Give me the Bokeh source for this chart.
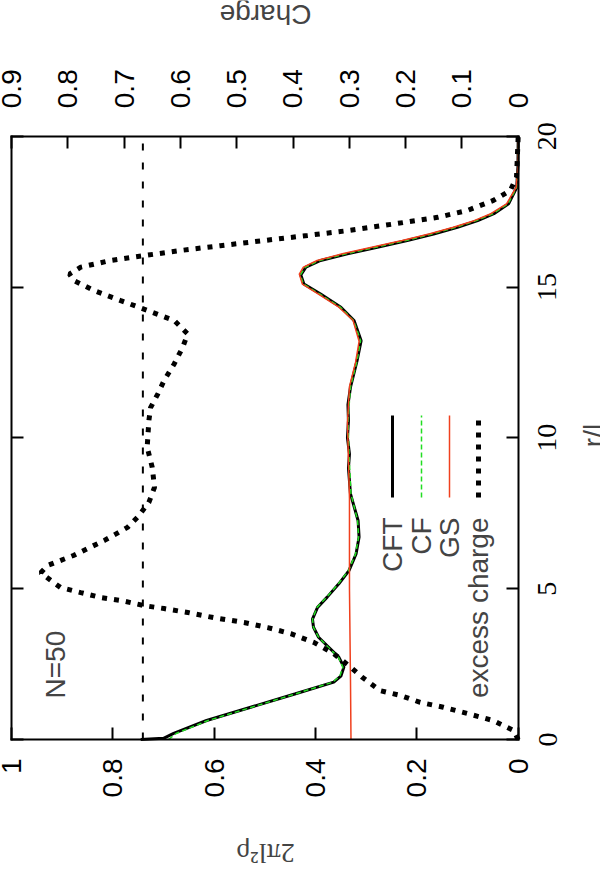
import math
from bokeh.plotting import figure
from bokeh.models import Range1d, LinearAxis, FixedTicker, Label, LabelSet, ColumnDataSource
from bokeh.embed import file_html
from bokeh.resources import INLINE

# ---------------- data ----------------
# CFT density (2*pi*l^2*rho) versus r/l
r_cft = [0.0, 0.04, 0.2, 0.63, 1.07, 1.51, 1.9, 2.1, 2.4, 2.73, 3.06, 3.39, 3.72, 3.99,
         4.38, 4.72, 5.16, 5.6, 6.15, 6.71, 7.26, 8.14, 9.0, 9.47, 10.0, 10.57, 11.1, 11.68,
         12.56, 13.22, 13.89, 14.33, 14.77, 15.1, 15.4, 15.66, 15.88, 16.1, 16.32, 16.54,
         16.76, 16.98, 17.2, 17.43, 17.76, 18.3, 19.0, 20.0]
rho_cft = [0.745, 0.70, 0.68, 0.615, 0.528, 0.441, 0.364, 0.35, 0.344, 0.354, 0.374, 0.394,
           0.404, 0.406, 0.396, 0.377, 0.354, 0.334, 0.32, 0.314, 0.316, 0.331, 0.335, 0.333,
           0.337, 0.335, 0.336, 0.331, 0.318, 0.31, 0.324, 0.35, 0.39, 0.423, 0.429, 0.419,
           0.39, 0.337, 0.278, 0.219, 0.167, 0.12, 0.08, 0.048, 0.019, 0.003, 0.0005, 0.0]

# CF density
r_cf = [0.0, 0.2, 0.63, 1.07, 1.51, 1.9, 2.1, 2.4, 2.73, 3.06, 3.39, 3.72, 3.99,
        4.38, 4.72, 5.16, 5.6, 6.15, 6.71, 7.26, 8.14, 9.47, 10.57, 11.68,
        12.56, 13.22, 13.89, 14.33, 14.77, 15.1, 15.4, 15.66, 15.88, 16.1, 16.32, 16.54,
        16.76, 16.98, 17.2, 17.43, 17.76, 18.3, 19.0, 20.0]
rho_cf = [0.69, 0.675, 0.612, 0.526, 0.44, 0.366, 0.352, 0.346, 0.355, 0.375, 0.394,
          0.404, 0.406, 0.397, 0.378, 0.355, 0.335, 0.321, 0.315, 0.317, 0.33, 0.334,
          0.336, 0.331, 0.318, 0.311, 0.325, 0.351, 0.392, 0.424, 0.43, 0.42,
          0.392, 0.34, 0.281, 0.222, 0.17, 0.123, 0.083, 0.05, 0.02, 0.003, 0.0005, 0.0]

# GS density
r_gs = [0.0, 2.0, 5.0, 8.0, 10.5, 11.7, 12.5, 13.2, 13.9, 14.33, 14.77, 15.1, 15.43,
        15.66, 15.88, 16.1, 16.32, 16.54, 16.76, 16.98, 17.2, 17.43, 17.76, 18.3, 19.0, 20.0]
rho_gs = [0.330, 0.331, 0.333, 0.333, 0.337, 0.333, 0.321, 0.314, 0.326, 0.354, 0.395,
          0.426, 0.432, 0.424, 0.397, 0.347, 0.289, 0.229, 0.176, 0.128, 0.087, 0.054,
          0.023, 0.004, 0.0005, 0.0]

# excess charge versus r/l
r_exc = [0.0, 0.3, 0.63, 0.86, 1.07, 1.23, 1.46, 1.62, 2.06, 2.45, 2.85, 3.22, 3.51, 3.71,
         3.88, 4.04, 4.21, 4.34, 4.44, 4.61, 4.71, 4.87, 5.04, 5.27, 5.53, 5.77, 6.1, 6.33,
         6.6, 7.03, 7.37, 7.86, 8.36, 9.02, 9.69, 10.57, 11.0, 11.46, 11.9, 12.45, 13.0,
         13.44, 13.89, 14.22, 14.55, 14.88, 15.21, 15.43, 15.66, 15.88, 16.04, 16.21, 16.37,
         16.54, 16.71, 16.87, 17.09, 17.31, 17.54, 17.87, 18.2, 18.64, 20.0]
q_exc = [0.0, 0.008, 0.045, 0.09, 0.133, 0.174, 0.209, 0.245, 0.277, 0.301, 0.328, 0.363,
         0.404, 0.445, 0.487, 0.541, 0.587, 0.629, 0.665, 0.706, 0.742, 0.777, 0.813, 0.83,
         0.848, 0.836, 0.79, 0.765, 0.735, 0.694, 0.676, 0.656, 0.646, 0.65, 0.659, 0.656,
         0.653, 0.64, 0.629, 0.611, 0.596, 0.587, 0.611, 0.658, 0.706, 0.753, 0.789, 0.797,
         0.777, 0.724, 0.665, 0.6, 0.529, 0.452, 0.374, 0.303, 0.221, 0.143, 0.09, 0.044,
         0.014, 0.003, 0.0]

ref_charge = 2.0 / 3.0

rho_ticks = [0, 0.2, 0.4, 0.6, 0.8, 1]
rho_tick_labels = ["0", "0.2", "0.4", "0.6", "0.8", "1"]
charge_ticks = [0, 0.1, 0.2, 0.3, 0.4, 0.5, 0.6, 0.7, 0.8, 0.9]
charge_tick_labels = ["0", "0.1", "0.2", "0.3", "0.4", "0.5", "0.6", "0.7", "0.8", "0.9"]
r_ticks = [0, 5, 10, 15, 20]
r_tick_labels = ["0", "5", "10", "15", "20"]

series_names = ["CFT", "CF", "GS", "excess charge"]

RHO_MIN, RHO_MAX = 0.0, 1.0
Q_MIN, Q_MAX = 0.0, 0.9
R_MIN, R_MAX = 0.0, 20.0

# ---------------- layout (pixels) ----------------
W, H = 600, 875                  # canvas
BOX_L, BOX_R = 11.0, 517.7       # plot box edges on the canvas
BOX_T, BOX_B = 135.7, 739.0

# map the whole canvas to data space so the box sits where it should
px_rho = (BOX_R - BOX_L) / (RHO_MAX - RHO_MIN)
px_q = (BOX_R - BOX_L) / (Q_MAX - Q_MIN)
px_r = (BOX_B - BOX_T) / (R_MAX - R_MIN)
x_rng = Range1d(RHO_MIN + BOX_R / px_rho, RHO_MIN - (W - BOX_R) / px_rho)
q_rng = Range1d(Q_MIN + BOX_R / px_q, Q_MIN - (W - BOX_R) / px_q)
y_rng = Range1d(R_MIN - (H - BOX_B) / px_r, R_MIN + BOX_B / px_r)


def rho_at(px):
    return RHO_MIN + (BOX_R - px) / px_rho


def r_at(py):
    return R_MIN + (BOX_B - py) / px_r


# ---------------- style ----------------
FONT = "Liberation Sans"
FS = "28px"
C_CFT = "black"
C_CF = "#22dd22"
C_GS = "#f0401e"
C_EXC = "black"
EXC_STYLE = dict(line_color=C_EXC, line_width=5, line_dash="5 7")

p = figure(width=W, height=H, x_range=x_rng, y_range=y_rng,
           x_axis_location=None, y_axis_location=None,
           output_backend="svg", toolbar_location=None,
           min_border_left=0, min_border_right=0, min_border_top=0, min_border_bottom=0)
p.extra_x_ranges = {"charge": q_rng}
p.grid.visible = False
p.outline_line_color = None
p.background_fill_color = "white"
p.border_fill_color = "white"


def style_axis(ax):
    ax.axis_line_width = 2
    ax.axis_line_cap = "square"
    ax.major_tick_line_width = 2
    ax.major_tick_in = 12
    ax.major_tick_out = 0
    ax.minor_tick_line_color = None
    ax.major_label_text_font = FONT
    ax.major_label_text_font_size = FS
    ax.major_label_text_color = "black"


bottom = LinearAxis(ticker=FixedTicker(ticks=rho_ticks), fixed_location=R_MIN,
                    bounds=(RHO_MIN, RHO_MAX),
                    major_label_overrides=dict(zip(rho_ticks, rho_tick_labels)))
style_axis(bottom)
bottom.major_label_orientation = math.pi / 2
bottom.major_label_standoff = 19
p.add_layout(bottom, "below")

top = LinearAxis(x_range_name="charge", ticker=FixedTicker(ticks=charge_ticks),
                 fixed_location=R_MAX, bounds=(Q_MIN, Q_MAX),
                 major_label_overrides=dict(zip(charge_ticks, charge_tick_labels)))
style_axis(top)
top.major_label_orientation = math.pi / 2
top.major_label_standoff = 28
p.add_layout(top, "above")

for side, loc in (("left", RHO_MAX), ("right", RHO_MIN)):
    ax = LinearAxis(ticker=FixedTicker(ticks=r_ticks), fixed_location=loc,
                    bounds=(R_MIN, R_MAX),
                    major_label_overrides={t: "" for t in r_ticks})
    style_axis(ax)
    ax.major_label_standoff = 0
    p.add_layout(ax, side)

# right tick labels (rotated, centred on ticks)
rsrc = ColumnDataSource(dict(y=r_ticks, text=r_tick_labels))
p.add_layout(LabelSet(x=rho_at(547), y="y", text="text", source=rsrc, angle=math.pi / 2,
                      text_align="center", text_baseline="middle",
                      text_font=FONT, text_font_size=FS, text_color="black"))

# ---------------- curves ----------------
p.line(x=[ref_charge, ref_charge], y=[R_MIN, R_MAX], x_range_name="charge",
       line_color="black", line_width=2, line_dash="7 12")
p.line(x=rho_cft, y=r_cft, line_color=C_CFT, line_width=3)
p.line(x=rho_cf, y=r_cf, line_color=C_CF, line_width=1.5, line_dash="5 3")
p.line(x=rho_gs, y=r_gs, line_color=C_GS, line_width=1.5)
p.line(x=q_exc, y=r_exc, x_range_name="charge", **EXC_STYLE)

# ---------------- legend (rotated) ----------------
LEG_PX = [392, 421, 449, 478]
LEG_Y0, LEG_Y1, LEG_YT = 497, 415, 517
leg_styles = [dict(line_color=C_CFT, line_width=3),
              dict(line_color=C_CF, line_width=1.5, line_dash="5 3"),
              dict(line_color=C_GS, line_width=1.5),
              EXC_STYLE]
for lpx, name, st in zip(LEG_PX, series_names, leg_styles):
    lx = rho_at(lpx)
    p.line(x=[lx, lx], y=[r_at(LEG_Y0), r_at(LEG_Y1)], **st)
    p.add_layout(Label(x=lx, y=r_at(LEG_YT), text=name, angle=math.pi / 2,
                       text_align="right", text_baseline="middle",
                       text_font=FONT, text_font_size=FS))

# ---------------- texts ----------------
p.add_layout(Label(x=rho_at(55), y=r_at(698), text="N=50", angle=math.pi / 2,
                   text_align="left", text_baseline="middle",
                   text_font=FONT, text_font_size=FS))
for px, py, txt, ang, fnt in [(265, 14, "Charge", math.pi, FONT),
                              (265, 853, "2πl²ρ", math.pi, "Liberation Serif"),
                              (593, 435, "r/l", math.pi / 2, FONT)]:
    p.add_layout(Label(x=rho_at(px), y=r_at(py), text=txt, angle=ang, text_align="center",
                       text_baseline="middle", text_font=fnt, text_font_size=FS))

open("out.html", "w").write(file_html(p, INLINE))
